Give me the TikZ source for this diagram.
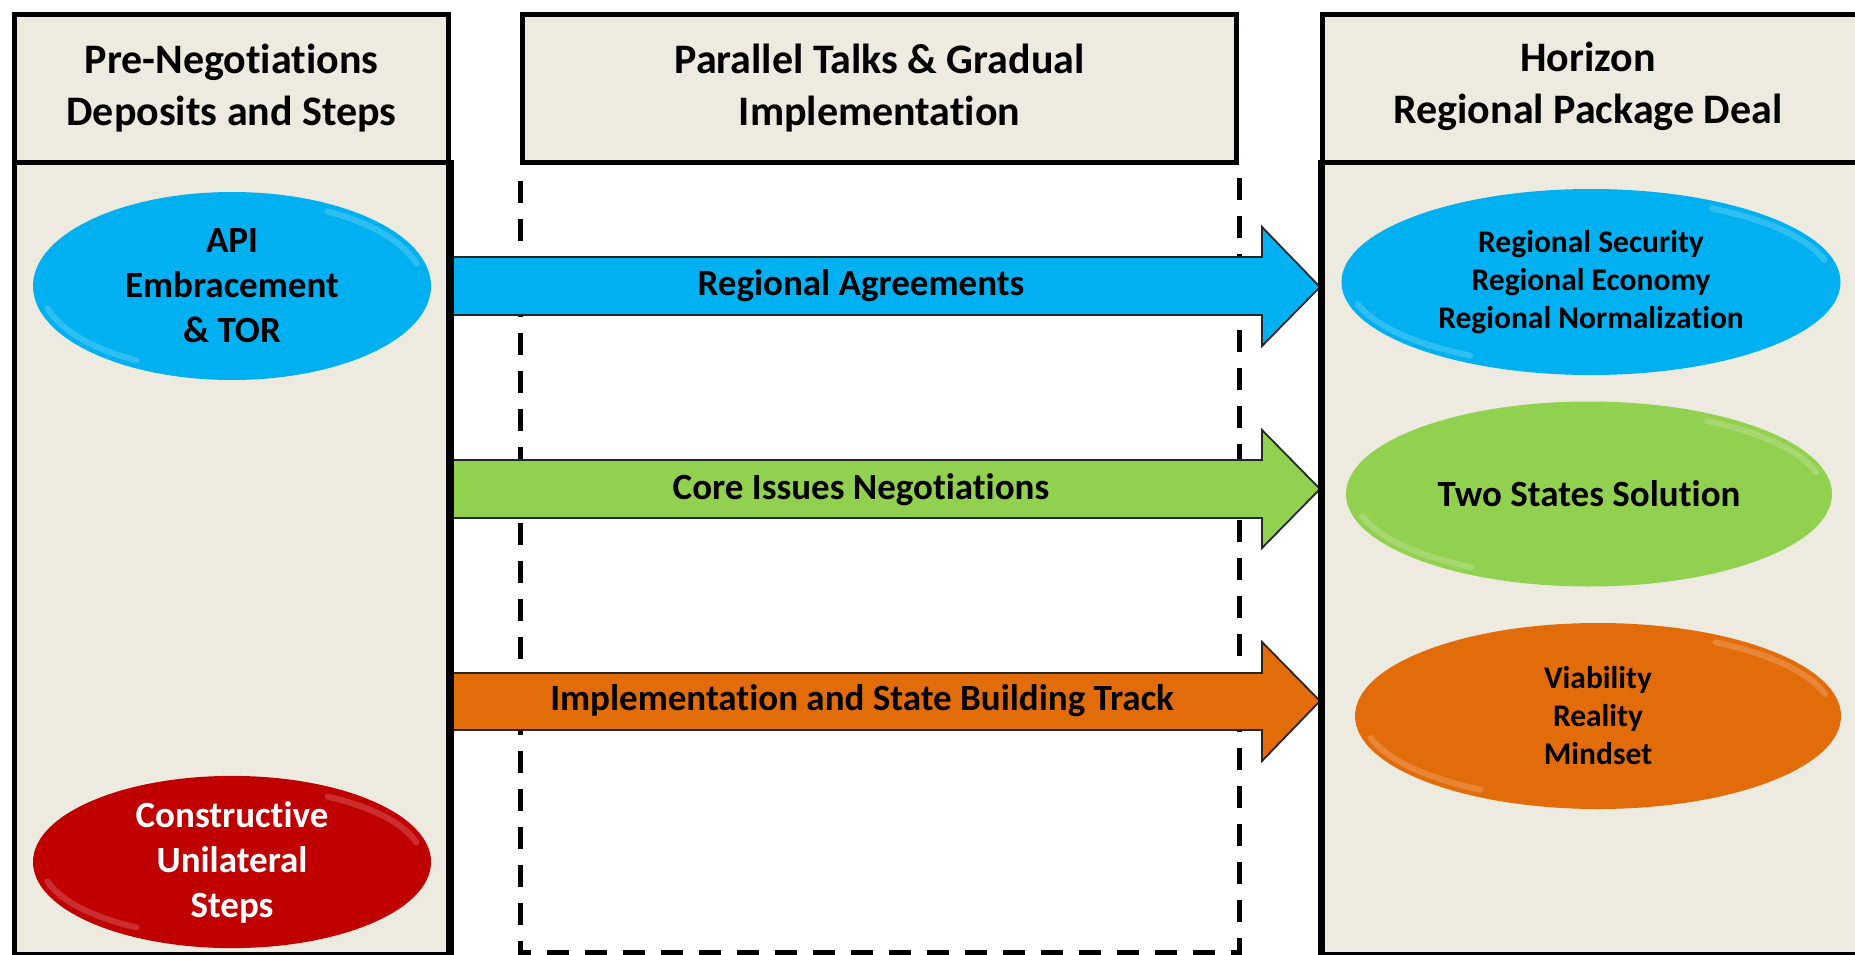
\documentclass[tikz,border=0pt]{standalone}
\usepackage{fontspec}
\setmainfont{Carlito}[Ligatures=NoCommon]
\usetikzlibrary{shapes.geometric,calc}
\definecolor{colbg}{HTML}{EDEAE0}
\definecolor{cblue}{HTML}{00B0F0}
\definecolor{cgreen}{HTML}{92D050}
\definecolor{corange}{HTML}{E36C0A}
\definecolor{cred}{HTML}{C00000}
\newcommand\bevelarcs[4]{%
  \draw[white,opacity=.18,line width=6pt,line cap=round]
    ([shift={(-15:{#3-8} and {#4-8})}]#1,#2) arc[start angle=-15,end angle=-60,x radius={#3-8},y radius={#4-8}];
  \draw[white,opacity=.18,line width=6pt,line cap=round]
    ([shift={(165:{#3-8} and {#4-8})}]#1,#2) arc[start angle=165,end angle=120,x radius={#3-8},y radius={#4-8}];
}
\begin{document}
\begin{tikzpicture}[x=1pt,y=-1pt,
  colbox/.style={draw=black,line width=5pt,fill=colbg,anchor=north west,inner sep=0pt,rectangle},
  headtext/.style={font=\fontsize{42}{52}\selectfont\bfseries,align=center,inner sep=0pt},
  dashline/.style={draw=black,line width=5pt,dash pattern=on 22pt off 16pt,dash phase=22pt},
  blockarrow/.style={draw=black!85,line width=1.8pt,line join=miter},
  arrowtext/.style={font=\fontsize{37}{45}\selectfont\bfseries,inner sep=0pt},
  ell/.style={ellipse,inner sep=0pt,draw=none,align=center},
  bigtext/.style={font=\fontsize{37}{45}\selectfont\bfseries},
  smalltext/.style={font=\fontsize{31.5}{38}\selectfont\bfseries}]
\useasboundingbox (0,0) rectangle (1855,955);

% columns
\node[colbox,minimum width=434pt,minimum height=148pt] (lhead) at (12,12) {};
\node[colbox,minimum width=434pt,minimum height=792pt] (lbody) at (12,160) {};
\node[colbox,minimum width=714pt,minimum height=148pt] (mhead) at (520,12) {};
\node[colbox,minimum width=560pt,minimum height=148pt] (rhead) at (1320,12) {};
\node[colbox,minimum width=560pt,minimum height=792pt] (rbody) at (1320,160) {};

% header texts
\node[headtext] (lt) at (lhead.center) {Pre-Negotiations\\Deposits and Steps};
\node[headtext] (mt) at (mhead.center) {Parallel Talks \& Gradual\\Implementation};
\node[headtext] (rt) at (1588,86) {Horizon\\Regional Package Deal};

% dashed frame
\coordinate (dbl) at (mhead.south west |- 0,952);
\coordinate (dbr) at (mhead.south east |- 0,952);
\draw[dashline] (mhead.south west) -- (dbl) -- (dbr) -- (mhead.south east);

% block arrows
\draw[blockarrow,fill=cblue] (lbody.east |- 0,257) -- (1262,257) -- (1262,227) -- (rbody.west |- 0,287) -- (1262,346) -- (1262,315) -- (lbody.east |- 0,315) -- cycle;
\draw[blockarrow,fill=cgreen] (lbody.east |- 0,460) -- (1262,460) -- (1262,430) -- (rbody.west |- 0,489) -- (1262,548) -- (1262,518) -- (lbody.east |- 0,518) -- cycle;
\draw[blockarrow,fill=corange] (lbody.east |- 0,673) -- (1262,673) -- (1262,642) -- (rbody.west |- 0,701) -- (1262,761) -- (1262,730) -- (lbody.east |- 0,730) -- cycle;
\draw[line width=5pt] (lbody.north east) -- (lbody.south east);
\draw[line width=5pt] (rbody.north west) -- (rbody.south west);

\node[arrowtext] (ra) at (861,286) {Regional Agreements};
\node[arrowtext] (ci) at (861,490) {Core Issues Negotiations};
\node[arrowtext] (im) at (862,701) {Implementation and State Building Track};

% ellipses
\node[ell,fill=cblue,minimum width=398pt,minimum height=188pt,bigtext] (api) at (232,286) {API\\Embracement\\\& TOR};
\bevelarcs{232}{286}{199}{94}
\node[ell,fill=cred,minimum width=398pt,minimum height=167pt,bigtext,text=white] (cus) at (232,862) {Constructive\\Unilateral\\Steps};
\bevelarcs{232}{862}{199}{83.5}
\node[ell,fill=cblue,minimum width=499pt,minimum height=186pt,smalltext] (reg) at (1591,282) {Regional Security\\Regional Economy\\Regional Normalization};
\bevelarcs{1591}{282}{249.5}{93}
\node[ell,fill=cgreen,minimum width=486pt,minimum height=185pt,bigtext] (tss) at (1589,494) {Two States Solution};
\bevelarcs{1589}{494}{243}{92.5}
\node[ell,fill=corange,minimum width=486pt,minimum height=186pt,smalltext] (vrm) at (1598,716) {Viability\\Reality\\Mindset};
\bevelarcs{1598}{716}{243}{93}
\end{tikzpicture}
\end{document}
